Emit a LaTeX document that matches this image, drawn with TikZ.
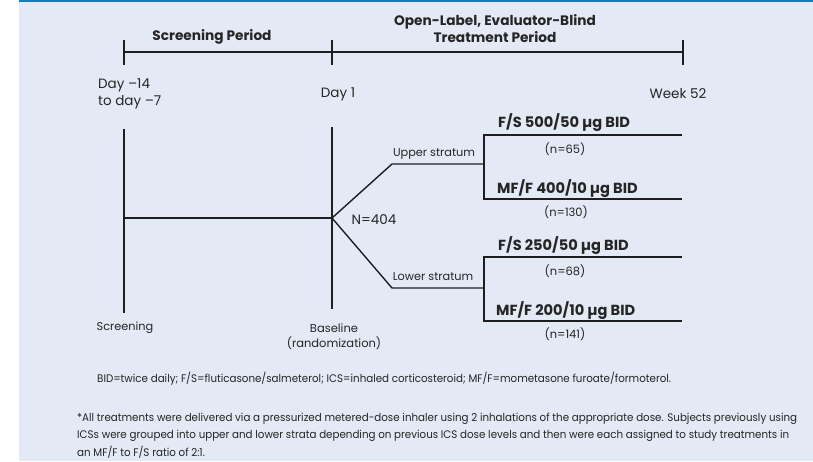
\documentclass[tikz,border=0pt]{standalone}
\usepackage{fontspec}
\setmainfont{Poppins}
\newfontfamily\notefont[FakeStretch=0.935]{Poppins}
\definecolor{panelbg}{HTML}{E3EAF5}
\definecolor{rulebl}{HTML}{0A7FCA}
\definecolor{ink}{HTML}{1E1E1E}
\definecolor{txt}{HTML}{252525}
\tikzset{
  flow/.style={draw=ink, line width=1.4pt},
  tick/.style={draw=ink, line width=1.6pt},
  lbl/.style={inner sep=0pt, text=txt, font=\fontsize{11.3}{14}\selectfont},
  daylbl/.style={inner sep=0pt, text=txt, font=\fontsize{13.5}{17}\selectfont},
  head/.style={inner sep=0pt, text=txt, align=center, font=\fontsize{13.7}{17}\selectfont\bfseries},
  arm/.style={inner sep=0pt, anchor=west, text=txt, font=\fontsize{14.6}{16}\selectfont\bfseries},
  cnt/.style={inner sep=0pt, text=txt, font=\fontsize{11.5}{14}\selectfont},
  note/.style={inner sep=0pt, anchor=west, text=txt, font=\notefont\fontsize{11}{13}\selectfont},
}
\begin{document}
\begin{tikzpicture}[x=1pt, y=-1pt]
\useasboundingbox (0,0) rectangle (813,461);
% panel and top rule
\fill[panelbg] (19,0) rectangle (813,461);
\fill[rulebl] (19,0) rectangle (813,2);

% timeline
\coordinate (tA) at (124,52);
\coordinate (tB) at (332,52);
\coordinate (tC) at (683,52);
\draw[flow] (tA) -- (tC);
\foreach \t in {tA,tB,tC} \draw[tick] ([yshift=12pt]\t) -- ([yshift=-13pt]\t);

\node[head] (scrp) at (212,37) {Screening Period};
\node[head] (trtp) at (495,28.5) {Open-Label, Evaluator-Blind\\Treatment Period};

\node[daylbl, align=left, anchor=west] (d14) at (98,93.5) {Day –14\\to day –7};
\node[daylbl] (d1) at (338,94) {Day 1};
\node[daylbl] (w52) at (678,94) {Week 52};

% study flow
\coordinate (s0) at (124,129);
\coordinate (s1) at (124,313);
\coordinate (b0) at (332,127);
\coordinate (b1) at (332,309);
\coordinate (hm) at (124,218);
\coordinate (rz) at (332,218);
\coordinate (up) at (392,164);
\coordinate (uf) at (484,164);
\coordinate (lo) at (392,288);
\coordinate (lf) at (484,288);
\coordinate (u1) at (484,135);
\coordinate (u2) at (484,199);
\coordinate (ue1) at (682,135);
\coordinate (ue2) at (682,199);
\coordinate (l1) at (484,257);
\coordinate (l2) at (484,321);
\coordinate (le1) at (682,257);
\coordinate (le2) at (682,321);

\draw[flow] (s0) -- (s1);
\draw[flow] (b0) -- (b1);
\draw[flow] (hm) -- (rz);
\draw[flow] (rz) -- (up) -- (uf);
\draw[flow] (rz) -- (lo) -- (lf);
\draw[flow] (ue1) -- (u1) -- (u2) -- (ue2);
\draw[flow] (le1) -- (l1) -- (l2) -- (le2);

\node[lbl] (ups) at (434,154) {Upper stratum};
\node[lbl] (los) at (433,277) {Lower stratum};
\node[daylbl] (ntot) at (374,220) {N=404};

\node[arm] (a1) at (498,123) {F/S 500/50 µg BID};
\node[cnt] (n1) at (565,149) {(n=65)};
\node[arm] (a2) at (497,189) {MF/F 400/10 µg BID};
\node[cnt] (n2) at (566,212) {(n=130)};
\node[arm] (a3) at (498,246) {F/S 250/50 µg BID};
\node[cnt] (n3) at (565,271) {(n=68)};
\node[arm] (a4) at (496,311) {MF/F 200/10 µg BID};
\node[cnt] (n4) at (565,334) {(n=141)};

\node[lbl] (scr) at (125,328) {Screening};
\node[lbl, align=center, font=\fontsize{11.5}{15}\selectfont] (base) at (334,336.5) {Baseline\\(randomization)};

% footnotes
\node[note] (abbr) at (97,379) {BID=twice daily; F/S=fluticasone/salmeterol; ICS=inhaled corticosteroid; MF/F=mometasone furoate/formoterol.};
\node[note] (fn1) at (77,419) {*All treatments were delivered via a pressurized metered-dose inhaler using 2 inhalations of the appropriate dose. Subjects previously using};
\node[note] (fn2) at (77,435.5) {ICSs were grouped into upper and lower strata depending on previous ICS dose levels and then were each assigned to study treatments in};
\node[note] (fn3) at (77,452) {an MF/F to F/S ratio of 2:1.};
\end{tikzpicture}
\end{document}
